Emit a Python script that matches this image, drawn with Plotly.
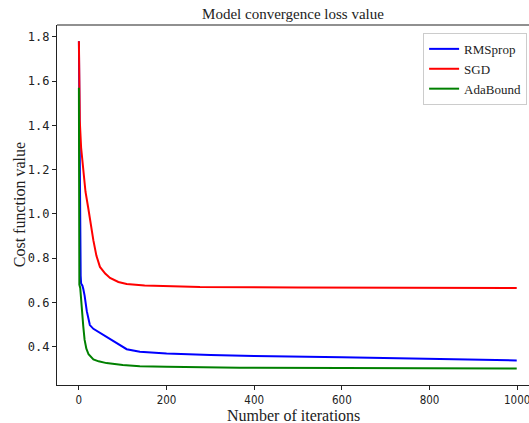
import plotly.graph_objects as go

# Data
rms_x = [0, 1, 2, 3, 4, 5, 8, 10, 13, 18, 25, 33, 45, 63, 90, 109, 139, 200, 300, 400, 600, 800, 999]
rms_y = [1.78, 1.45, 1.10, 0.85, 0.72, 0.685, 0.675, 0.66, 0.63, 0.56, 0.497, 0.48, 0.465, 0.446, 0.41, 0.388,
         0.376, 0.368, 0.362, 0.357, 0.352, 0.346, 0.337]

sgd_x = [0, 2, 5, 10, 15, 21, 27, 33, 40, 48, 60, 71, 90, 109, 150, 200, 276, 500, 999]
sgd_y = [1.78, 1.42, 1.30, 1.19, 1.10, 1.03, 0.95, 0.88, 0.81, 0.76, 0.73, 0.71, 0.692, 0.683, 0.676, 0.672,
         0.669, 0.667, 0.665]

ada_x = [0, 1, 3, 5, 6, 8, 10, 13, 17, 22, 33, 45, 63, 100, 139, 200, 367, 600, 999]
ada_y = [1.57, 0.68, 0.665, 0.60, 0.57, 0.52, 0.49, 0.43, 0.39, 0.365, 0.342, 0.333, 0.325, 0.316, 0.311,
         0.308, 0.304, 0.303, 0.301]

x_ticks = [0, 200, 400, 600, 800, 1000]
y_ticks = [0.4, 0.6, 0.8, 1.0, 1.2, 1.4, 1.6, 1.8]

serif = "Liberation Serif, Times New Roman, serif"
ytickfont = dict(family="DejaVu Sans Mono, monospace", size=12, color="#222")
xtickfont = dict(family="Liberation Sans Narrow, DejaVu Sans Condensed, Roboto Condensed, sans-serif",
                 size=11.5, color="#222")

fig = go.Figure()
fig.add_trace(go.Scatter(x=rms_x, y=rms_y, mode="lines", name="RMSprop",
                         line=dict(color="#0000ff", width=2)))
fig.add_trace(go.Scatter(x=sgd_x, y=sgd_y, mode="lines", name="SGD",
                         line=dict(color="#ff0000", width=2)))
fig.add_trace(go.Scatter(x=ada_x, y=ada_y, mode="lines", name="AdaBound",
                         line=dict(color="#008000", width=2)))

fig.update_layout(
    width=529, height=423,
    margin=dict(l=57, r=0, t=25, b=38, autoexpand=False),
    paper_bgcolor="white", plot_bgcolor="white",
    title=dict(text="Model convergence loss value", x=0.5, xref="paper", y=0.98, yanchor="top",
               font=dict(family=serif, size=15, color="#222")),
    showlegend=True,
    legend=dict(x=0.996, y=0.978, xanchor="right", yanchor="top",
                bgcolor="white", bordercolor="#cccccc", borderwidth=1,
                font=dict(family=serif, size=13, color="#222"),
                itemwidth=30, tracegroupgap=0),
    xaxis=dict(range=[-50, 1027], tickvals=x_ticks, showgrid=False, zeroline=False, automargin=False,
               showline=True, linecolor="#222", linewidth=1.2, ticklabeloverflow="allow",
               ticks="outside", ticklen=4, tickcolor="#222", tickfont=xtickfont),
    yaxis=dict(range=[0.226, 1.854], tickvals=y_ticks, tickformat=".1f", showgrid=False, zeroline=False,
               automargin=False,
               showline=True, linecolor="#222", linewidth=1.2,
               ticks="outside", ticklen=4, tickcolor="#222", tickfont=ytickfont),
    annotations=[
        dict(text="Number of iterations", xref="paper", yref="paper", x=0.5, y=-0.085,
             xanchor="center", yanchor="middle", showarrow=False,
             font=dict(family=serif, size=16, color="#222")),
        dict(text="Cost function value", xref="paper", yref="paper", x=-0.08, y=0.5,
             xanchor="center", yanchor="middle", showarrow=False, textangle=-90,
             font=dict(family=serif, size=16, color="#222")),
    ],
)

# top spine
fig.add_shape(type="line", xref="paper", yref="paper", x0=0, x1=1, y0=1, y1=1,
              line=dict(color="#222", width=1.2))

fig.write_html("out.html", config={"displayModeBar": False},
               post_script="document.body.style.margin='0';")
